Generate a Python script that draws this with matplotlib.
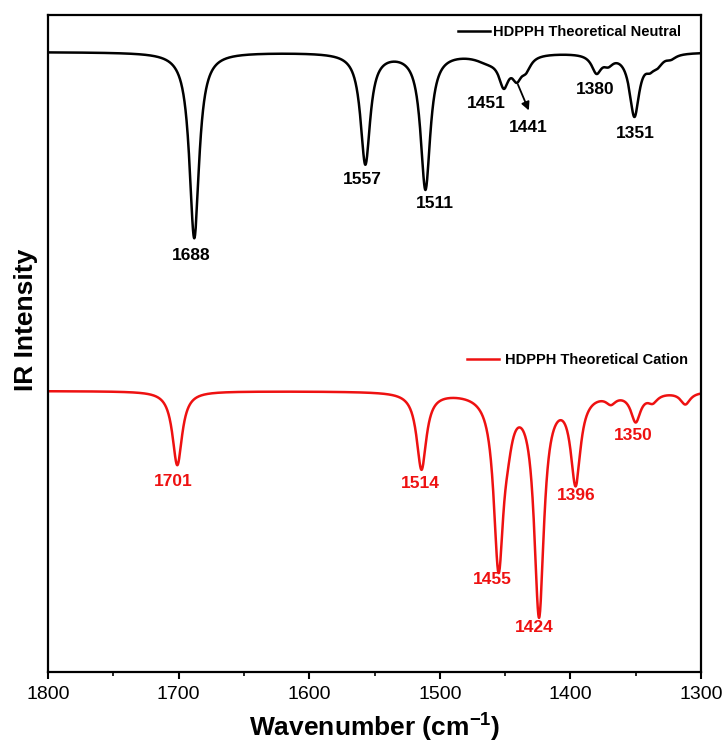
import matplotlib.pyplot as plt
import numpy as np
from matplotlib.lines import Line2D
from matplotlib.ticker import MultipleLocator

plt.rcParams["font.family"] = ["Liberation Sans", "DejaVu Sans"]

# Peak centres (cm-1), depths and half widths (arbitrary units)
neutral_centres = [1688, 1557, 1511, 1463, 1451, 1441, 1434, 1380, 1371, 1351, 1339, 1333, 1323]
neutral_depths = [186, 111, 136, 7, 28, 20, 12, 18, 8, 62, 10, 8, 4]
neutral_widths = [4.5, 4.5, 4.5, 12, 4.5, 4.5, 4.5, 4.5, 4.5, 4.5, 4.5, 4.5, 4.5]
neutral_baseline = 620

cation_centres = [1701, 1514, 1455, 1448, 1424, 1396, 1369, 1350, 1337, 1312]
cation_depths = [74, 77, 170, 22, 220, 88, 8, 28, 8, 12]
cation_widths = [4.5] * len(cation_centres)
cation_baseline = 281

# peak labels: text, x (cm-1), y
neutral_labels = [
    ("1688", 1690.5, 417),
    ("1557", 1559.5, 492),
    ("1511", 1504.0, 469),
    ("1451", 1464.5, 569),
    ("1441", 1432.5, 545),
    ("1380", 1381.0, 583),
    ("1351", 1350.5, 539),
]
cation_labels = [
    ("1701", 1704.3, 191),
    ("1514", 1515.2, 189),
    ("1455", 1460.0, 93),
    ("1424", 1427.9, 44),
    ("1396", 1395.7, 177),
    ("1350", 1352.1, 237),
]


def spectrum(x, centres, depths, widths, baseline):
    y = np.full_like(x, float(baseline))
    for c, d, w in zip(centres, depths, widths):
        y -= d / (1 + ((x - c) / w) ** 2)
    return y


wn = np.linspace(1300, 1800, 5001)
neutral = spectrum(wn, neutral_centres, neutral_depths, neutral_widths, neutral_baseline)
cation = spectrum(wn, cation_centres, cation_depths, cation_widths, cation_baseline)

fig = plt.figure(figsize=(7.26, 7.43), dpi=100)
ax = fig.add_axes([48 / 726, 1 - 672 / 743, 653 / 726, 657 / 743])

ax.plot(wn, neutral, color="black", lw=1.8)
ax.plot(wn, cation, color="#ee1111", lw=1.8)

for txt, x, y in neutral_labels:
    ax.text(x, y, txt, ha="center", va="center", fontsize=12.5, fontweight="bold", color="black")
for txt, x, y in cation_labels:
    ax.text(x, y, txt, ha="center", va="center", fontsize=12.5, fontweight="bold", color="#ee1111")

ax.annotate("", xy=(1431, 559), xytext=(1441, 590),
            arrowprops=dict(arrowstyle="-|>", color="black", lw=1.3, mutation_scale=12))

ax.set_xlim(1800, 1300)
ax.set_ylim(0, 657)
ax.xaxis.set_major_locator(MultipleLocator(100))
ax.xaxis.set_minor_locator(MultipleLocator(50))
ax.tick_params(axis="x", which="major", direction="out", length=5, width=1.5, labelsize=14, pad=5)
ax.tick_params(axis="x", which="minor", direction="out", length=3, width=1.2)
ax.set_yticks([])
for s in ax.spines.values():
    s.set_linewidth(1.6)

ax.set_xlabel("Wavenumber (cm$^{\\mathregular{-1}}$)", fontsize=19, fontweight="bold", labelpad=5)
ax.set_ylabel("IR Intensity", fontsize=19, fontweight="bold")
ax.yaxis.set_label_coords(-0.016, 0.536)

h1 = Line2D([], [], color="black", lw=1.8)
h2 = Line2D([], [], color="#ee1111", lw=1.8)
leg1 = ax.legend([h1], ["HDPPH Theoretical Neutral"], loc="upper right", bbox_to_anchor=(0.99, 1.004),
                 frameon=False, prop=dict(weight="bold", size=10.5), handlelength=2.2, handletextpad=0.2)
ax.add_artist(leg1)
ax.legend([h2], ["HDPPH Theoretical Cation"], loc="upper right", bbox_to_anchor=(1.0, 0.505),
          frameon=False, prop=dict(weight="bold", size=10.5), handlelength=2.2, handletextpad=0.4)

fig.savefig("out.png", dpi=100)
